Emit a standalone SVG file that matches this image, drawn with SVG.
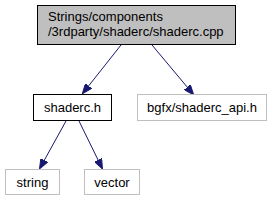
<svg xmlns="http://www.w3.org/2000/svg" width="273" height="201" viewBox="0 0 273 201">
<style>
.t{font-family:"Liberation Sans",Arial,sans-serif;font-size:13px;fill:#000}
.e{stroke:#191970;fill:none;stroke-width:1}
.h{fill:#191970;stroke:#191970}
</style>
<defs>
<marker id="a" markerWidth="10" markerHeight="8" refX="9" refY="4" orient="auto" markerUnits="userSpaceOnUse"><path d="M0,0 L10,4 L0,8 Z" class="h"/></marker>
</defs>
<rect width="273" height="201" fill="#fff"/>
<g id="edges">
<line class="e" x1="121" y1="45" x2="83" y2="93" marker-end="url(#a)"/>
<line class="e" x1="152" y1="45" x2="193" y2="94" marker-end="url(#a)"/>
<line class="e" x1="66" y1="121" x2="40" y2="168" marker-end="url(#a)"/>
<line class="e" x1="79" y1="121" x2="102" y2="168" marker-end="url(#a)"/>
</g>
<g id="n0"><rect x="37.5" y="5.5" width="198" height="39" fill="#bfbfbf" stroke="#000"/>
<text class="t" x="48" y="21">Strings/components</text>
<text class="t" x="48" y="36">/3rdparty/shaderc/shaderc.cpp</text></g>
<g id="n1"><rect x="33.5" y="94.5" width="78" height="26" fill="#fff" stroke="#000"/>
<text class="t" x="72.5" y="112" text-anchor="middle">shaderc.h</text></g>
<g id="n2"><rect x="137.5" y="94.5" width="129" height="26" fill="#fff" stroke="#bfbfbf"/>
<text class="t" x="202" y="112" text-anchor="middle">bgfx/shaderc_api.h</text></g>
<g id="n3"><rect x="5.5" y="169.5" width="54" height="25" fill="#fff" stroke="#bfbfbf"/>
<text class="t" x="32.5" y="187" text-anchor="middle">string</text></g>
<g id="n4"><rect x="84.5" y="169.5" width="55" height="25" fill="#fff" stroke="#bfbfbf"/>
<text class="t" x="112" y="187" text-anchor="middle">vector</text></g>
</svg>
